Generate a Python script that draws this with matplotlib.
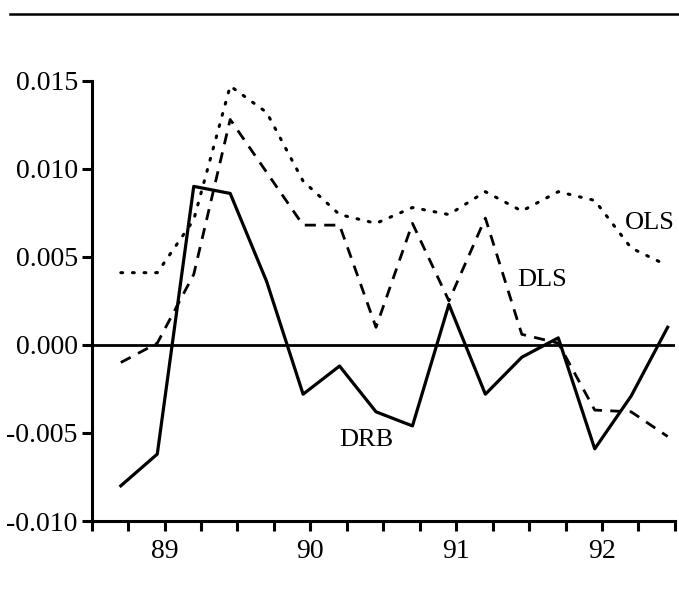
import numpy as np
import matplotlib
matplotlib.use('Agg')
import matplotlib.pyplot as plt
from matplotlib.lines import Line2D

plt.rcParams['font.family'] = ['Liberation Serif', 'DejaVu Serif']

# quarterly observations, 88Q3 .. 92Q2
quarters = [88.70, 88.95, 89.20, 89.45, 89.70, 89.95, 90.20, 90.45,
            90.70, 90.95, 91.20, 91.45, 91.70, 91.95, 92.20, 92.45]

drb = [-0.0080, -0.0062, 0.0090, 0.0086, 0.0036, -0.0028, -0.0012, -0.0038,
       -0.0046, 0.0023, -0.0028, -0.0007, 0.0004, -0.0059, -0.0029, 0.0010]

dls = [-0.0010, 0.0001, 0.0040, 0.0128, 0.0098, 0.0068, 0.0068, 0.0010,
       0.0069, 0.0025, 0.0072, 0.0006, 0.0001, -0.0037, -0.0038, -0.0052]

ols = [0.0041, 0.0041, 0.0071, 0.0147, 0.0132, 0.0093, 0.0074, 0.0069,
       0.0078, 0.0074, 0.0087, 0.0076, 0.0087, 0.0082, 0.0055, 0.0045]

year_ticks = [89, 90, 91, 92]
y_ticks = [-0.010, -0.005, 0.000, 0.005, 0.010, 0.015]


def make_plot():
    fig = plt.figure(figsize=(6.79, 6.05), dpi=100)
    ax = fig.add_axes([0.135, 0.1388, 0.859, 0.7278])

    # rule across the top of the page
    fig.add_artist(Line2D([0.015, 1.0], [0.977, 0.977], color='black', lw=1.8))

    ax.plot(quarters, ols, color='black', lw=2.2, linestyle=(0, (0.6, 3.2)),
            dash_capstyle='round')
    ax.plot(quarters, dls, color='black', lw=2.0, linestyle=(0, (4.0, 3.0)))
    ax.plot(quarters, drb, color='black', lw=2.3)
    ax.axhline(0, color='black', lw=2.0)

    # series labels
    ax.text(92.50, 0.0069, 'OLS', fontsize=19, ha='right', va='center')
    ax.text(91.59, 0.0037, 'DLS', fontsize=19, ha='center', va='center')
    ax.text(90.38, -0.0054, 'DRB', fontsize=19, ha='center', va='center')

    ax.set_xlim(88.5, 92.5)
    ax.set_ylim(-0.010, 0.015)
    ax.set_xticks(np.arange(88.5, 92.51, 0.25), minor=True)
    ax.set_xticks(year_ticks)
    ax.set_xticklabels([str(y) for y in year_ticks])
    ax.set_yticks(y_ticks)
    ax.set_yticklabels(['%.3f' % v for v in y_ticks])

    for s in ['top', 'right']:
        ax.spines[s].set_visible(False)
    for s in ['left', 'bottom']:
        ax.spines[s].set_linewidth(2.2)
    ax.tick_params(which='both', direction='out', length=7, width=2.2, labelsize=20)
    ax.tick_params(axis='x', pad=6)
    ax.tick_params(axis='y', pad=3)

    fig.savefig('out.png', dpi=100)


if __name__ == "__main__":
    make_plot()
